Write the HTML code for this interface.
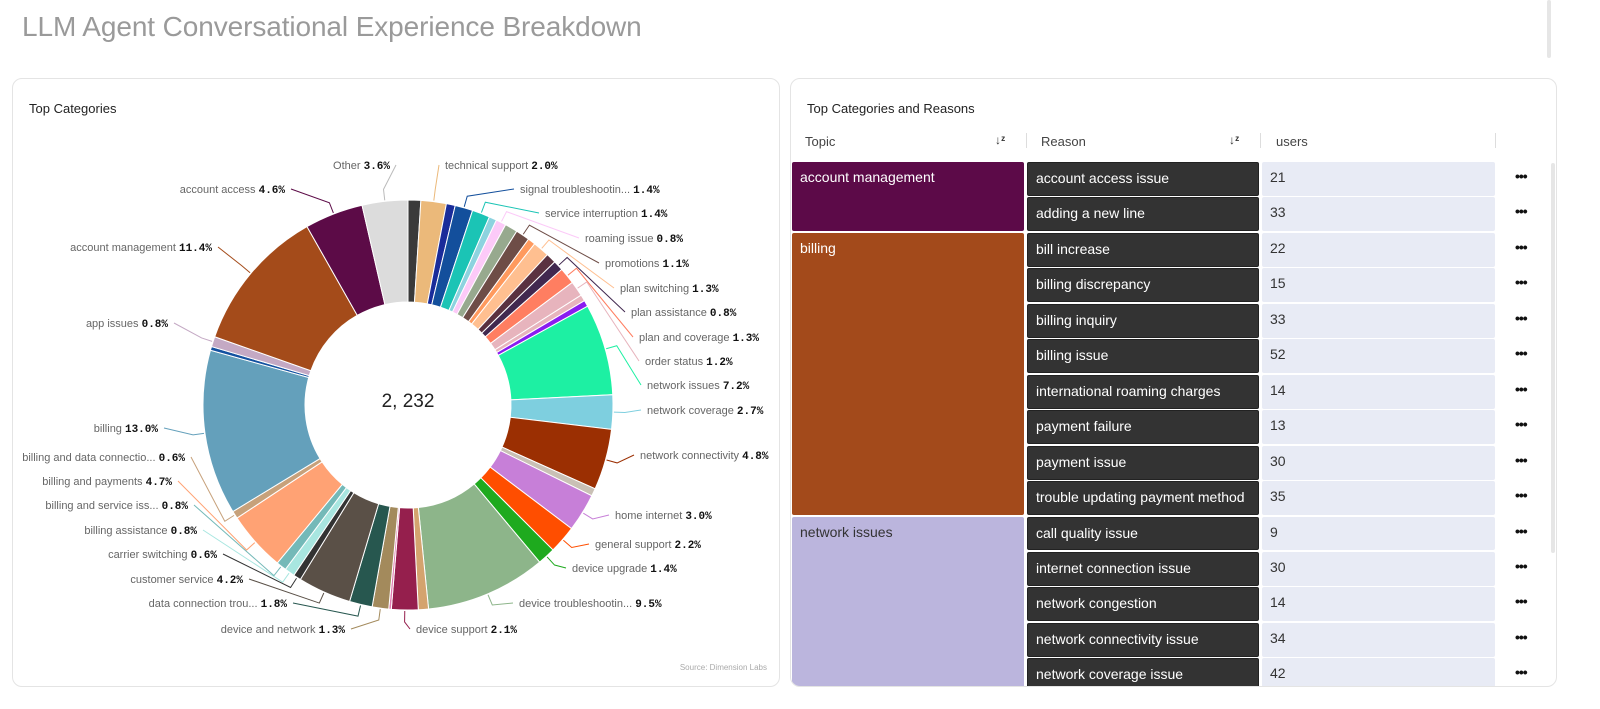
<!DOCTYPE html>
<html><head><meta charset="utf-8">
<style>
html,body{margin:0;padding:0;background:#fff;width:1600px;height:709px;overflow:hidden;font-family:"Liberation Sans",sans-serif;}
.title{position:absolute;left:22px;top:11px;font-size:28px;color:#9a9a9a;letter-spacing:-0.1px;}
.card{position:absolute;top:78px;height:609px;border:1px solid #e4e4e4;border-radius:10px;background:#fff;box-sizing:border-box;}
.ctitle{position:absolute;left:16px;top:22px;font-size:13px;color:#222;}
.th{position:absolute;top:55px;font-size:13px;color:#444;}
.sep{position:absolute;top:54px;width:1px;height:15px;background:#ddd;}
.sort{position:absolute;top:54px;font-size:12px;color:#333;font-weight:bold;}
.cell{position:absolute;box-sizing:border-box;font-size:14px;padding:7px 8px;border-radius:2px;}
.topic{color:#fff;}
.reason{background:#333;color:#fff;border:1px solid #222;}
.users{background:#e8ebf5;color:#333;}
.dots{position:absolute;font-size:14px;font-weight:bold;color:#111;letter-spacing:-1px;}
</style></head>
<body>
<div class="title">LLM Agent Conversational Experience Breakdown</div>
<div style="position:absolute;left:1547px;top:0;width:4px;height:58px;background:#e6e6e6;border-radius:2px;"></div>

<div class="card" style="left:12px;width:768px;">
  <div class="ctitle">Top Categories</div>
  <div style="position:absolute;right:12px;bottom:14px;font-size:8px;color:#aaa;">Source: Dimension Labs</div>
</div>
<svg id="donut" width="1600" height="709" style="position:absolute;left:0;top:0;pointer-events:none"></svg>

<div class="card" id="tcard" style="left:790px;width:767px;overflow:hidden;">
  <div class="ctitle">Top Categories and Reasons</div>
  <div class="th" style="left:14px">Topic</div>
  <div class="sort" style="left:204px">↓ᶻ</div>
  <div class="sep" style="left:235px"></div>
  <div class="th" style="left:250px">Reason</div>
  <div class="sort" style="left:438px">↓ᶻ</div>
  <div class="sep" style="left:469px"></div>
  <div class="th" style="left:485px">users</div>
  <div class="sep" style="left:704px"></div>
  <div style="position:absolute;left:760px;top:84px;width:4px;height:390px;background:#e6e6e6;border-radius:2px;"></div>
  <div id="rows"></div>
</div>

<script>
const topics = ["account management","billing","network issues"];
const topicColors = ["#5c0a48","#a34a1b","#bbb5dd"];
const topicTextColors = ["#fff","#fff","#333"];
const rowTopic = [0,0,1,1,1,1,1,1,1,1,2,2,2,2,2];
const reasons = ["account access issue","adding a new line","bill increase","billing discrepancy","billing inquiry","billing issue","international roaming charges","payment failure","payment issue","trouble updating payment method","call quality issue","internet connection issue","network congestion","network connectivity issue","network coverage issue"];
const users = [21,33,22,15,33,52,14,13,30,35,9,30,14,34,42];

const rowsEl = document.getElementById('rows');
const top0 = 83, pitch = 35.45;
let i = 0;
while (i < reasons.length) {
  let j = i; while (j < reasons.length && rowTopic[j] === rowTopic[i]) j++;
  const t = document.createElement('div');
  t.className = 'cell topic';
  
  
  t.style.cssText = `left:1px;top:${top0+i*pitch}px;width:232px;height:${(j-i)*pitch-1.5}px;background:${topicColors[rowTopic[i]]};color:${topicTextColors[rowTopic[i]]};`;
  t.textContent = topics[rowTopic[i]];
  rowsEl.appendChild(t);
  i = j;
}
reasons.forEach((r, k) => {
  const y = top0 + k*pitch;
  const a = document.createElement('div');
  a.className = 'cell reason';
  
  
  a.style.cssText = `left:236px;top:${y}px;width:232px;height:${pitch-1.5}px;`;
  a.textContent = r; rowsEl.appendChild(a);
  const u = document.createElement('div');
  u.className = 'cell users';
  
  
  u.style.cssText = `left:471px;top:${y}px;width:233px;height:${pitch-1.5}px;`;
  u.textContent = users[k]; rowsEl.appendChild(u);
  const d = document.createElement('div');
  d.className = 'dots';
  
  
  d.style.cssText = `left:724px;top:${y+6}px;`;
  d.textContent = '•••'; rowsEl.appendChild(d);
});

const sliceNames = [null,"technical support",null,"signal troubleshootin...","service interruption",null,"roaming issue",null,"promotions",null,"plan switching",null,"plan assistance","plan and coverage","order status",null,null,"network issues","network coverage","network connectivity",null,"home internet","general support","device upgrade","device troubleshootin...",null,"device support",null,"device and network","data connection trou...","customer service","carrier switching","billing assistance","billing and service iss...","billing and payments","billing and data connectio...","billing",null,"app issues","account management","account access","Other"];
const sliceValues = [1.0,2.0,0.7,1.4,1.4,0.6,0.8,1.0,1.1,0.6,1.3,0.8,0.8,1.3,1.2,0.5,0.5,7.2,2.7,4.8,0.6,3.0,2.2,1.4,9.5,0.8,2.1,0.2,1.3,1.8,4.2,0.6,0.8,0.8,4.7,0.6,13.0,0.3,0.8,11.4,4.6,3.6];
const sliceLabels = ["","2.0%","","1.4%","1.4%","","0.8%","","1.1%","","1.3%","","0.8%","1.3%","1.2%","","","7.2%","2.7%","4.8%","","3.0%","2.2%","1.4%","9.5%","","2.1%","","1.3%","1.8%","4.2%","0.6%","0.8%","0.8%","4.7%","0.6%","13.0%","","0.8%","11.4%","4.6%","3.6%"];
const totalCount = "2, 232";
const sliceColors = ["#3a3a3a","#ebb97a","#1a2c9a","#134f9c","#1bc4b5","#8dd3df","#fccaf8","#97a98e","#6e4d47","#ff9a5e","#ffbf90","#5a3140","#41284f","#ff7e61","#e7b4bd","#e7b4bd","#8a1cf0","#1df0a3","#7ecfdf","#9b2f02","#c9c0b5","#c77fd8","#ff4e00","#1eaa1e","#8db58a","#d4a36e","#951f4d","#e07ab0","#a38a5c","#27574f","#5a5047","#333333","#a8e6e0","#74b9b8","#ffa274","#c7a17b","#64a0bb","#1351a0","#c4a9c4","#a44b1a","#5c0b47","#dcdcdc"];
const labelPos = {"technical support":[445,169,'s'],"signal troubleshootin...":[520,193,'s'],"service interruption":[545,217,'s'],"roaming issue":[585,242,'s'],"promotions":[605,267,'s'],"plan switching":[620,292,'s'],"plan assistance":[631,316,'s'],"plan and coverage":[639,341,'s'],"order status":[645,365,'s'],"network issues":[647,389,'s'],"network coverage":[647,414,'s'],"network connectivity":[640,459,'s'],"home internet":[615,519,'s'],"general support":[595,548,'s'],"device upgrade":[572,572,'s'],"device troubleshootin...":[519,607,'s'],"device support":[416,633,'s'],"Other":[390,169,'e'],"account access":[285,193,'e'],"account management":[212,251,'e'],"app issues":[168,327,'e'],"billing":[158,432,'e'],"billing and data connectio...":[185,461,'e'],"billing and payments":[172,485,'e'],"billing and service iss...":[188,509,'e'],"billing assistance":[197,534,'e'],"carrier switching":[217,558,'e'],"customer service":[243,583,'e'],"data connection trou...":[287,607,'e'],"device and network":[345,633,'e']};

const svg = document.getElementById('donut');
const NS = 'http://www.w3.org/2000/svg';
const cx = 408, cy = 405, R = 205, r = 103;
const total = sliceValues.reduce((a,b)=>a+b,0);
function pt(f, rad){ const a = 2*Math.PI*f; return [cx + rad*Math.sin(a), cy - rad*Math.cos(a)]; }
let acc = 0;
sliceValues.forEach((v, k) => {
  const f0 = acc/total, f1 = (acc+v)/total; acc += v;
  const [x0,y0] = pt(f0,R), [x1,y1] = pt(f1,R), [x2,y2] = pt(f1,r), [x3,y3] = pt(f0,r);
  const large = (f1-f0) > 0.5 ? 1 : 0;
  const p = document.createElementNS(NS,'path');
  p.setAttribute('d',`M${x0},${y0} A${R},${R} 0 ${large} 1 ${x1},${y1} L${x2},${y2} A${r},${r} 0 ${large} 0 ${x3},${y3} Z`);
  p.setAttribute('fill', sliceColors[k]);
  p.setAttribute('stroke','#fff');
  p.setAttribute('stroke-width','1');
  
  
  svg.appendChild(p);
  const nm = sliceNames[k];
  if (nm && labelPos[nm]) {
    const [lx,ly,side] = labelPos[nm];
    const fm = (f0+f1)/2;
    const [ax,ay] = pt(fm, R+1), [bx,by] = pt(fm, R+12);
    const ex = side==='s' ? lx-6 : lx+6;
    const ln = document.createElementNS(NS,'path');
    ln.setAttribute('d',`M${ax},${ay} L${bx},${by} L${ex},${ly-4}`);
    ln.setAttribute('fill','none');
    ln.setAttribute('stroke', sliceColors[k]==='#dcdcdc' ? '#bbb' : sliceColors[k]);
    ln.setAttribute('stroke-width','1');
    
    
    svg.appendChild(ln);
    const t = document.createElementNS(NS,'text');
    t.setAttribute('x', lx); t.setAttribute('y', ly);
    t.setAttribute('text-anchor', side==='s' ? 'start' : 'end');
    t.setAttribute('font-size','11');
    
    
    const s1 = document.createElementNS(NS,'tspan');
    s1.setAttribute('fill','#666');
    s1.setAttribute('font-family','Liberation Sans, sans-serif');
    s1.textContent = nm + ' ';
    const s2 = document.createElementNS(NS,'tspan');
    s2.setAttribute('fill','#111');
    s2.setAttribute('font-weight','bold');
    s2.setAttribute('font-family','Liberation Mono, monospace');
    s2.textContent = sliceLabels[k];
    t.appendChild(s1); t.appendChild(s2);
    svg.appendChild(t);
  }
});
const ct = document.createElementNS(NS,'text');
ct.setAttribute('x', cx); ct.setAttribute('y', cy+2);
ct.setAttribute('text-anchor','middle');
ct.setAttribute('font-size','19');
ct.setAttribute('fill','#222');
ct.setAttribute('font-family','Liberation Sans, sans-serif');


ct.textContent = totalCount;
svg.appendChild(ct);
</script>
</body></html>
